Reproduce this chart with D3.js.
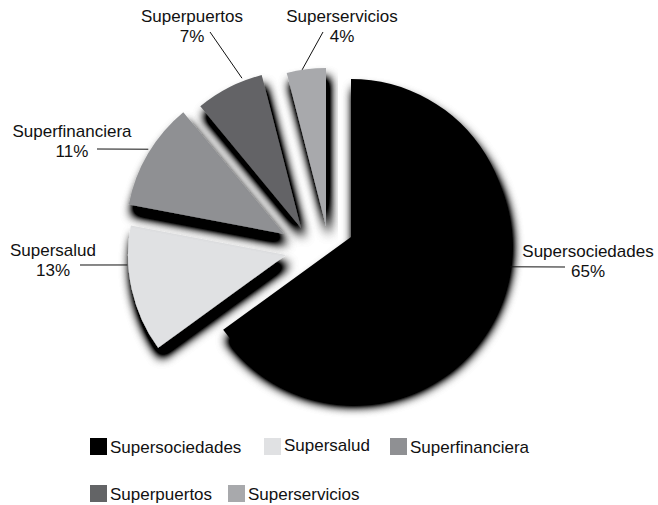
<!DOCTYPE html>
<html><head><meta charset="utf-8">
<script src="https://cdn.jsdelivr.net/npm/d3@7"></script>
<style>body{margin:0;background:#fff}text{font-family:"Liberation Sans",Arial,sans-serif;fill:#111}</style>
</head><body><svg id="c" width="658" height="505"></svg>
<script>
const categories = ["Supersociedades","Supersalud","Superfinanciera","Superpuertos","Superservicios"];
const values = [65, 13, 11, 7, 4];
const percentLabels = ["65%","13%","11%","7%","4%"];

// styling / layout (not data)
const colors = ["#000000","#e0e1e3","#8f9093","#636466","#a8a9ac"];
const R = 158;
const base = [310, 240];
const sliceOffsets = [[41,-3],[-24,15],[-26,-6],[-9,-12],[16,-14]];
const labelPos = [[588,257],[53,256],[72,137],[192,22],[342,22]];
const lineDef = [ // [x0,y0, angle(deg) on arc, extra radius]
  [565,267,100.6,4],[80,265,266.4,1],[97,149,302,2],[210,32,338.5,3],[323,32,351.3,0]
];

const svg = d3.select("#c");
const defs = svg.append("defs");
const f = defs.append("filter").attr("id","sh").attr("x","-30%").attr("y","-30%").attr("width","160%").attr("height","160%");
f.append("feGaussianBlur").attr("in","SourceAlpha").attr("stdDeviation",5.5).attr("result","b");
f.append("feOffset").attr("in","b").attr("dx",3).attr("dy",10).attr("result","o");
const ct = f.append("feComponentTransfer").attr("in","o").attr("result","s");
ct.append("feFuncA").attr("type","linear").attr("slope",2.2);
const m = f.append("feMerge");
m.append("feMergeNode").attr("in","s");
m.append("feMergeNode").attr("in","SourceGraphic");

const pie = d3.pie().sort(null).value(d=>d).startAngle(0).endAngle(2*Math.PI);
const arcs = pie(values);
const arc = d3.arc().innerRadius(0).outerRadius(R);

const g = svg.append("g");
arcs.forEach((a,i)=>{
  const cx = base[0]+sliceOffsets[i][0], cy = base[1]+sliceOffsets[i][1];
  g.append("path").attr("d",arc(a)).attr("transform",`translate(${cx},${cy})`)
   .attr("fill",colors[i]).attr("filter","url(#sh)");
});

// labels
arcs.forEach((a,i)=>{
  const cx = base[0]+sliceOffsets[i][0], cy = base[1]+sliceOffsets[i][1];
  const ang = lineDef[i][2]*Math.PI/180, rr = R+lineDef[i][3];
  const x1 = cx + rr*Math.sin(ang), y1 = cy - rr*Math.cos(ang);
  svg.append("line").attr("x1",lineDef[i][0]).attr("y1",lineDef[i][1]).attr("x2",x1).attr("y2",y1)
    .attr("stroke","#111").attr("stroke-width",1);
  const t = svg.append("text").attr("text-anchor","middle").attr("font-size",17);
  t.append("tspan").attr("x",labelPos[i][0]).attr("y",labelPos[i][1]).text(categories[i]);
  t.append("tspan").attr("x",labelPos[i][0]).attr("y",labelPos[i][1]+20).text(percentLabels[i]);
});

// legend
const legendPos = [[90,438],[264,438],[390,438],[90,485],[228,485]];
categories.forEach((c,i)=>{
  const [x,y] = legendPos[i];
  svg.append("rect").attr("x",x).attr("y",y).attr("width",17).attr("height",17).attr("fill",colors[i]);
  svg.append("text").attr("x",x+20).attr("y",y+(i===1?13:15)).attr("font-size",17).text(c);
});
</script></body></html>
